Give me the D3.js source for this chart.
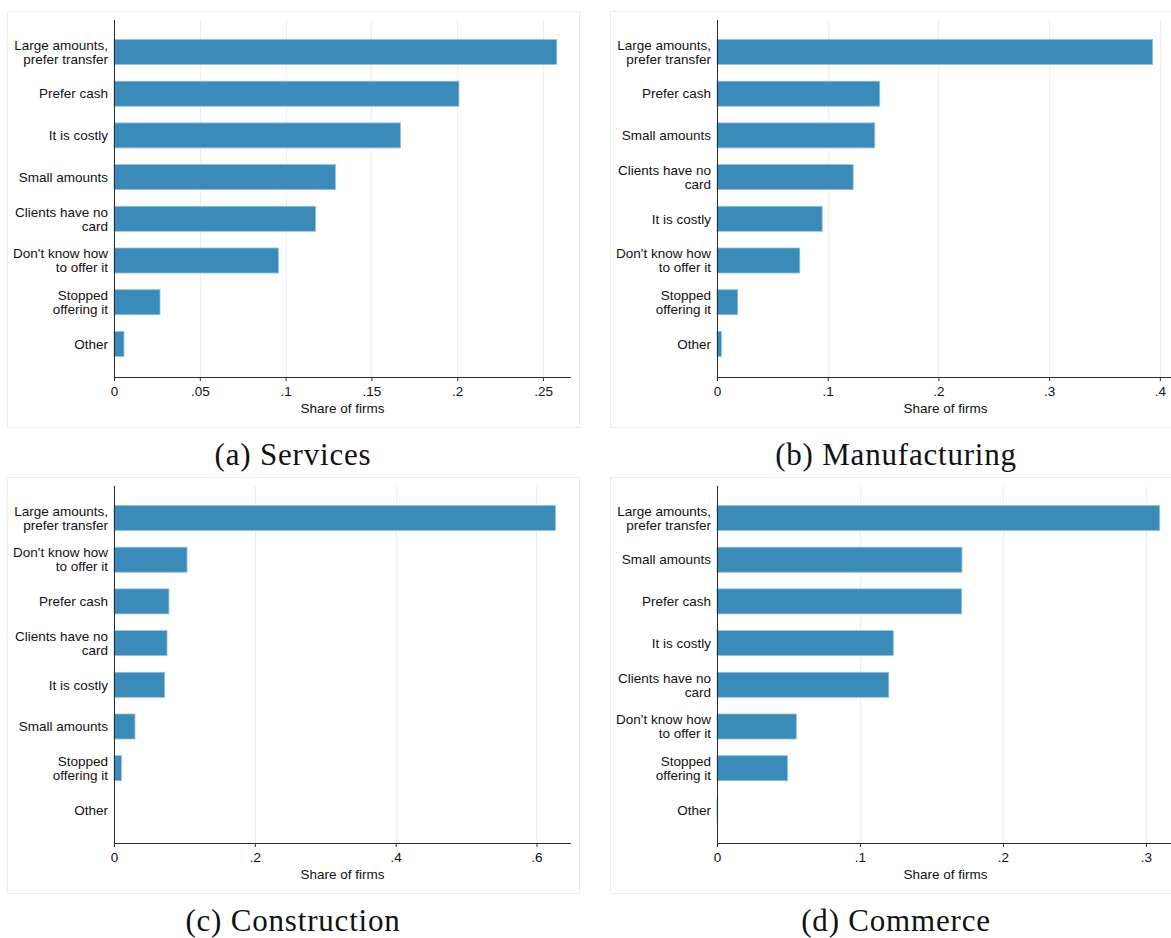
<!DOCTYPE html>
<html>
<head>
<meta charset="utf-8">
<script src="https://cdn.jsdelivr.net/npm/d3@7"></script>
<style>
  html, body { margin: 0; padding: 0; background: #ffffff; }
  svg { display: block; }
</style>
</head>
<body>
<svg id="chart" width="1171" height="938"></svg>
<script>
// Reasons firms give for not accepting card payments, by sector (share of firms)

const servicesCategories = ["Large amounts,\nprefer transfer", "Prefer cash", "It is costly", "Small amounts",
  "Clients have no\ncard", "Don't know how\nto offer it", "Stopped\noffering it", "Other"];
const servicesValues = [0.258, 0.201, 0.167, 0.129, 0.1175, 0.0958, 0.0268, 0.0058];
const servicesTicks = [0, 0.05, 0.1, 0.15, 0.2, 0.25];
const servicesTickLabels = ["0", ".05", ".1", ".15", ".2", ".25"];

const manufacturingCategories = ["Large amounts,\nprefer transfer", "Prefer cash", "Small amounts", "Clients have no\ncard",
  "It is costly", "Don't know how\nto offer it", "Stopped\noffering it", "Other"];
const manufacturingValues = [0.3935, 0.147, 0.1425, 0.123, 0.095, 0.0748, 0.0187, 0.004];
const manufacturingTicks = [0, 0.1, 0.2, 0.3, 0.4];
const manufacturingTickLabels = ["0", ".1", ".2", ".3", ".4"];

const constructionCategories = ["Large amounts,\nprefer transfer", "Don't know how\nto offer it", "Prefer cash",
  "Clients have no\ncard", "It is costly", "Small amounts", "Stopped\noffering it", "Other"];
const constructionValues = [0.627, 0.1037, 0.078, 0.0753, 0.072, 0.0298, 0.0105, 0];
const constructionTicks = [0, 0.2, 0.4, 0.6];
const constructionTickLabels = ["0", ".2", ".4", ".6"];

const commerceCategories = ["Large amounts,\nprefer transfer", "Small amounts", "Prefer cash", "It is costly",
  "Clients have no\ncard", "Don't know how\nto offer it", "Stopped\noffering it", "Other"];
const commerceValues = [0.3096, 0.1713, 0.1711, 0.1233, 0.1201, 0.0555, 0.0494, 0.0005];
const commerceTicks = [0, 0.1, 0.2, 0.3];
const commerceTickLabels = ["0", ".1", ".2", ".3"];

const axisTitle = "Share of firms";

const panels = [
  { caption: "(a) Services", cats: servicesCategories, vals: servicesValues,
    ticks: servicesTicks, tickLabels: servicesTickLabels, xMax: 0.2663, x: 7, y: 11 },
  { caption: "(b) Manufacturing", cats: manufacturingCategories, vals: manufacturingValues,
    ticks: manufacturingTicks, tickLabels: manufacturingTickLabels, xMax: 0.4128, x: 610, y: 11 },
  { caption: "(c) Construction", cats: constructionCategories, vals: constructionValues,
    ticks: constructionTicks, tickLabels: constructionTickLabels, xMax: 0.649, x: 7, y: 477 },
  { caption: "(d) Commerce", cats: commerceCategories, vals: commerceValues,
    ticks: commerceTicks, tickLabels: commerceTickLabels, xMax: 0.3196, x: 610, y: 477 }
];

const frameW = 572, frameH = 416;
const plotLeft = 107, plotWidth = 457;
const plotTop = 9, axisY = 366;
const bandTop = 20.15, bandBottom = 353.75;

const barFill = "#3a8bba";
const barEdge = "#93c3de";
const gridColor = "#e9f0f3";
const axisColor = "#2b2b2b";
const sansFont = "'Liberation Sans', Arial, Helvetica, sans-serif";
const serifFont = "'Liberation Serif', 'Times New Roman', serif";

const svg = d3.select("#chart");

panels.forEach(p => {
  const g = svg.append("g").attr("transform", `translate(${p.x},${p.y})`);

  // panel frame
  g.append("rect")
    .attr("x", 0.5).attr("y", 0.5)
    .attr("width", frameW).attr("height", frameH)
    .attr("fill", "none").attr("stroke", "#ececec").attr("stroke-width", 1);

  const x = d3.scaleLinear().domain([0, p.xMax]).range([plotLeft, plotLeft + plotWidth]);
  const y = d3.scaleBand().domain(p.cats).range([bandTop, bandBottom]).paddingInner(0.4).paddingOuter(0.2);

  // vertical grid lines at major ticks
  g.append("g").selectAll("line")
    .data(p.ticks.filter(t => t > 0))
    .join("line")
    .attr("x1", d => Math.round(x(d)) + 0.5).attr("x2", d => Math.round(x(d)) + 0.5)
    .attr("y1", plotTop).attr("y2", axisY)
    .attr("stroke", gridColor).attr("stroke-width", 1.2);

  // bars
  g.append("g").selectAll("rect")
    .data(p.cats.map((c, i) => ({ c, v: p.vals[i] })))
    .join("rect")
    .attr("x", x(0))
    .attr("y", d => y(d.c))
    .attr("width", d => Math.max(0, x(d.v) - x(0)))
    .attr("height", y.bandwidth())
    .attr("fill", barFill)
    .attr("stroke", d => d.v > 0 ? barEdge : "none")
    .attr("stroke-width", 0.8);

  // x axis
  const xAxis = d3.axisBottom(x)
    .tickValues(p.ticks)
    .tickFormat((d, i) => p.tickLabels[i])
    .tickSize(4)
    .tickSizeOuter(0);
  const gx = g.append("g").attr("transform", `translate(0,${axisY})`).call(xAxis);
  gx.select(".domain").attr("stroke", axisColor).attr("d", `M${plotLeft},0.5H${plotLeft + plotWidth}`);
  gx.selectAll(".tick line").attr("stroke", axisColor);
  gx.selectAll(".tick text")
    .attr("y", 9).attr("dy", "0.71em")
    .attr("fill", "#111").style("font-family", sansFont).style("font-size", "13.5px");

  // axis title
  g.append("text")
    .attr("x", plotLeft + plotWidth / 2).attr("y", axisY + 36)
    .attr("text-anchor", "middle")
    .attr("fill", "#111").style("font-family", sansFont).style("font-size", "13.5px")
    .text(axisTitle);

  // y axis with multi-line category labels
  const yAxis = d3.axisLeft(y).tickSize(0).tickPadding(6);
  const gy = g.append("g").attr("transform", `translate(${plotLeft},0)`).call(yAxis);
  gy.select(".domain").attr("stroke", axisColor).attr("d", `M0.5,${plotTop}V${axisY}`);
  gy.selectAll(".tick text").each(function (d) {
    const t = d3.select(this);
    const lines = d.split("\n");
    t.text(null)
      .attr("dy", null)
      .attr("fill", "#111").style("font-family", sansFont).style("font-size", "13.5px");
    lines.forEach((ln, i) => {
      t.append("tspan")
        .attr("x", -6)
        .attr("y", (i - (lines.length - 1) / 2) * 14)
        .attr("dy", "0.35em")
        .text(ln);
    });
  });

  // panel caption
  svg.append("text")
    .attr("x", p.x + 286).attr("y", p.y + frameH + 38)
    .attr("text-anchor", "middle")
    .attr("fill", "#111").style("font-family", serifFont).style("font-size", "31px")
    .style("letter-spacing", "0.8px")
    .text(p.caption);
});
</script>
</body>
</html>
